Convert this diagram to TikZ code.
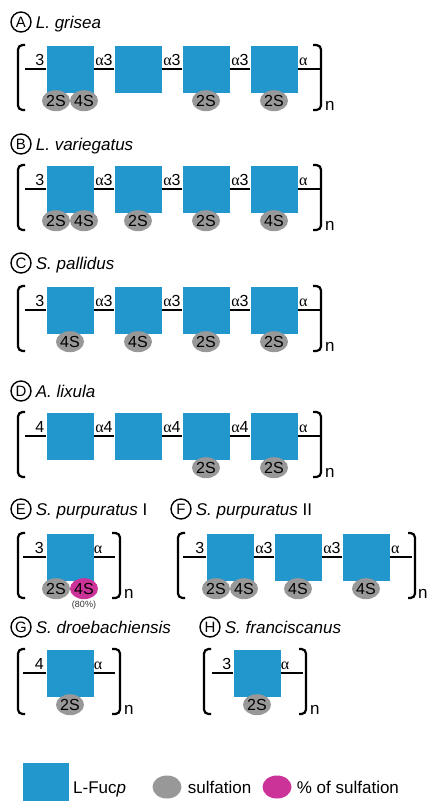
\documentclass[tikz,border=0pt]{standalone}
\usepackage{fontspec}
\setmainfont{Liberation Sans}
\newfontfamily\alphafont{Liberation Serif}
\usetikzlibrary{positioning,shapes.geometric}
\definecolor{fucblue}{RGB}{33,151,206}
\definecolor{sulfgray}{RGB}{152,152,152}
\definecolor{sulfpink}{RGB}{204,51,153}

\begin{document}
\begin{tikzpicture}[x=1pt,y=-1pt,
  fuc/.style={fill=fucblue, minimum size=47pt, inner sep=0pt},
  sulf/.style={ellipse, fill=sulfgray, minimum width=28pt, minimum height=21pt, inner sep=0pt, font=\fontsize{16}{16}\selectfont},
  psulf/.style={sulf, fill=sulfpink},
  link/.style={line width=1.7pt},
  brk/.style={line width=2.2pt, rounded corners=4.5pt},
  lbl/.style={above, inner sep=2.5pt, font=\fontsize{16}{16}\selectfont},
  tag/.style={circle, draw, line width=1.4pt, minimum size=20pt, inner sep=0pt, font=\fontsize{15}{15}\selectfont},
  ttl/.style={inner sep=0pt, text height=12pt, text depth=0pt, font=\fontsize{17}{17}\selectfont\itshape},
  rep/.style={anchor=base west, inner sep=0pt, font=\fontsize{17}{17}\selectfont},
  leg/.style={inner sep=0pt, text height=12pt, text depth=0pt, font=\fontsize{17}{17}\selectfont}]
\useasboundingbox (0,0) rectangle (427,801);

  % Titles
  \foreach \t/\x/\y/\name in {A/21/22/L. grisea, B/21/144/L. variegatus, C/21/263/S. pallidus,
      D/21/391/A. lixula, E/21/509/{S. purpuratus \upshape I}, F/181/509/{S. purpuratus \upshape II},
      G/21/627/S. droebachiensis, H/210/627/S. franciscanus}{
    \node[tag] (t\t) at (\x,\y) {\t};
    \node[ttl, right=4pt of t\t] (n\t) {\name};
  }

  % Chains A-D
  \foreach \r/\y/\k in {a/69/3, b/189/3, c/310/3, d/436/4}{
    \coordinate (\r0) at (25,\y);
    \coordinate (\r5) at (320,\y);
    \foreach \i in {1,...,4}
      \node[fuc] (\r\i) at ({2+68*\i},\y) {};
    \draw[link] (\r0) -- node[lbl, pos=.7] {\k} (\r1);
    \foreach \i/\j in {1/2,2/3,3/4}
      \draw[link] (\r\i) -- node[lbl] {{\alphafont α}\k} (\r\j);
    \draw[link] (\r4) -- node[lbl, pos=.25] {\alphafont α} (\r5);
    \draw[brk] (25,{\y-24}) -- (18,{\y-24}) -- (18,{\y+41}) -- (25,{\y+41});
    \draw[brk] (313,{\y-24}) -- (321,{\y-24}) -- (321,{\y+41}) -- (313,{\y+41});
    \node[rep] (\r n) at (325,{\y+41}) {n};
  }

  % E
  \coordinate (e0) at (23,557);
  \coordinate (e2) at (115,557);
  \node[fuc] (e1) at (70,557) {};
  \draw[link] (e0) -- node[lbl, pos=.7] {3} (e1);
  \draw[link] (e1) -- node[lbl, pos=.2] {\alphafont α} (e2);
  \draw[brk] (25,533) -- (18,533) -- (18,598) -- (25,598);
  \draw[brk] (112,533) -- (120,533) -- (120,598) -- (112,598);
  \node[rep] (en) at (124,598) {n};

  % F
  \coordinate (f0) at (183,557);
  \coordinate (f4) at (412,557);
  \foreach \i/\x in {1/230,2/298,3/366}
    \node[fuc] (f\i) at (\x,557) {};
  \draw[link] (f0) -- node[lbl, pos=.72] {3} (f1);
  \foreach \i/\j in {1/2,2/3}
    \draw[link] (f\i) -- node[lbl] {{\alphafont α}3} (f\j);
  \draw[link] (f3) -- node[lbl, pos=.25] {\alphafont α} (f4);
  \draw[brk] (185,533) -- (178,533) -- (178,598) -- (185,598);
  \draw[brk] (408,533) -- (415,533) -- (415,598) -- (408,598);
  \node[rep] (fn) at (418,598) {n};

  % G
  \coordinate (g0) at (23,673);
  \coordinate (g2) at (115,673);
  \node[fuc] (g1) at (70,673) {};
  \draw[link] (g0) -- node[lbl, pos=.7] {4} (g1);
  \draw[link] (g1) -- node[lbl, pos=.2] {\alphafont α} (g2);
  \draw[brk] (25,649) -- (18,649) -- (18,714) -- (25,714);
  \draw[brk] (112,649) -- (120,649) -- (120,714) -- (112,714);
  \node[rep] (gn) at (124,714) {n};

  % H
  \coordinate (h0) at (212,673);
  \coordinate (h2) at (303,673);
  \node[fuc] (h1) at (257,673) {};
  \draw[link] (h0) -- node[lbl, pos=.7] {3} (h1);
  \draw[link] (h1) -- node[lbl, pos=.2] {\alphafont α} (h2);
  \draw[brk] (211,649) -- (204,649) -- (204,714) -- (211,714);
  \draw[brk] (299,649) -- (306,649) -- (306,714) -- (299,714);
  \node[rep] (hn) at (310,714) {n};

  % Sulfation
  \foreach \b/\s/\t in {a1/-14/2S, a1/14/4S, a3/0/2S, a4/0/2S,
      b1/-14/2S, b1/14/4S, b2/0/2S, b3/0/2S, b4/0/4S,
      c1/0/4S, c2/0/4S, c3/0/2S, c4/0/2S, d3/0/2S, d4/0/2S,
      e1/-14/2S, f1/-14/2S, f1/14/4S, f2/0/4S, f3/0/4S, g1/0/2S, h1/0/2S}
    \node[sulf] (\b\t) at ([shift={(\s,8)}]\b.south) {\t};
  \node[psulf] (e14S) at ([shift={(14,8)}]e1.south) {4S};
  \node[below=1pt of e14S, inner sep=0pt, font=\fontsize{9}{9}\selectfont, black!80] (e1p) {(80\%)};

  % Legend
  \node[fuc, minimum width=46pt, minimum height=38pt] (lf) at (46,782) {};
  \node[leg, anchor=west] (lft) at (73,787) {L-Fuc\textit{p}};
  \node[sulf, minimum width=29pt, minimum height=23pt] (lg) at (167,787) {};
  \node[leg, right=6pt of lg] (lgt) {sulfation};
  \node[psulf, minimum width=29pt, minimum height=23pt] (lp) at (277,787) {};
  \node[leg, right=5pt of lp] (lpt) {\% of sulfation};
\end{tikzpicture}
\end{document}
